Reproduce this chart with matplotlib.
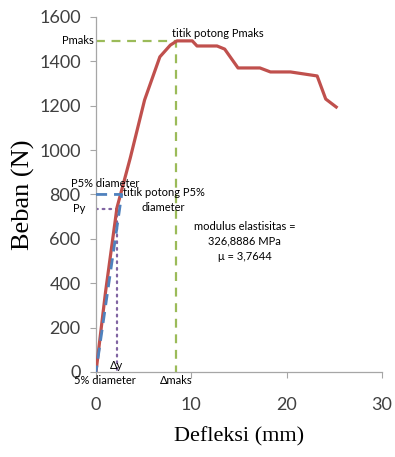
import matplotlib.pyplot as plt

# load-deflection curve (mm, N)
defl = [0, 1.0, 2.2, 3.6, 5.1, 6.7, 7.8, 8.5, 10.1, 10.6, 12.7, 13.5, 14.9,
        17.2, 18.3, 20.4, 23.2, 24.1, 25.2]
load = [0, 360, 740, 965, 1226, 1420, 1473, 1492, 1492, 1469, 1469, 1455, 1370,
        1370, 1352, 1352, 1334, 1230, 1194]

# characteristic points
p_maks, d_maks = 1492, 8.4
p_5, d_5 = 800, 2.7
p_y, d_y = 735, 2.2

xticks = [0, 10, 20, 30]
yticks = [0, 200, 400, 600, 800, 1000, 1200, 1400, 1600]

plt.rcParams.update({
    "font.family": "Lato",
})

fig = plt.figure(figsize=(3.95, 4.57), dpi=100)
ax = fig.add_axes([0.243, 0.186, 0.724, 0.777])

ax.plot(defl, load, color="#c0504d", lw=2.3, solid_joinstyle="round", zorder=3)

# Pmaks guides
ax.plot([0, d_maks, d_maks], [p_maks, p_maks, 0], color="#9bbb59",
        lw=1.6, ls=(0, (4, 3)), zorder=2)
# 5% diameter line
ax.plot([0, d_5, 0], [p_5, p_5, 0], color="#4f81bd",
        lw=2.0, ls=(0, (4, 2.5)), zorder=4)
# yield point
ax.plot([0, d_y, d_y], [p_y, p_y, 0], color="#8064a2",
        lw=1.6, ls=(0, (0.8, 2.2)), dash_capstyle="round", zorder=2)

ax.set_xlim(0, 30)
ax.set_ylim(0, 1600)
ax.set_xticks(xticks)
ax.set_yticks(yticks)
ax.tick_params(axis="both", labelsize=13, colors="#404040", length=4, width=0.8)
ax.tick_params(axis="y", pad=7)
ax.tick_params(axis="x", pad=14)
for s in ["top", "right"]:
    ax.spines[s].set_visible(False)
for s in ["left", "bottom"]:
    ax.spines[s].set_color("#a6a6a6")
    ax.spines[s].set_linewidth(0.9)
ax.tick_params(color="#a6a6a6")

ax.set_xlabel("Defleksi (mm)", family="Liberation Serif", fontsize=16, labelpad=10)
ax.set_ylabel("Beban (N)", family="Liberation Serif", fontsize=19, labelpad=3)

fs = 8
kw = dict(fontsize=fs, color="black")
ax.text(-0.2, p_maks, "Pmaks", ha="right", va="center", **kw)
ax.text(d_maks - 0.4, p_maks + 10, "titik potong Pmaks", ha="left", va="bottom", **kw)
ax.text(-2.6, p_5 + 25, "P5% diameter", ha="left", va="bottom", **kw)
ax.text(7.1, p_5 - 25, "titik potong P5%\ndiameter", ha="center", va="center",
        linespacing=1.45, **kw)
ax.text(-2.4, p_y, "Py", ha="left", va="center", **kw)
ax.text(15.6, 590, "modulus elastisitas =\n326,8886 MPa\n\u03bc = 3,7644",
        ha="center", va="center", linespacing=1.45, **kw)
ax.text(-2.3, -15, "5% diameter", ha="left", va="top", **kw)
ax.text(d_maks, -15, "\u0394maks", ha="center", va="top", **kw)
ax.text(d_y, 5, "\u0394y", ha="center", va="bottom", **kw)

fig.savefig("out.png", dpi=100)
